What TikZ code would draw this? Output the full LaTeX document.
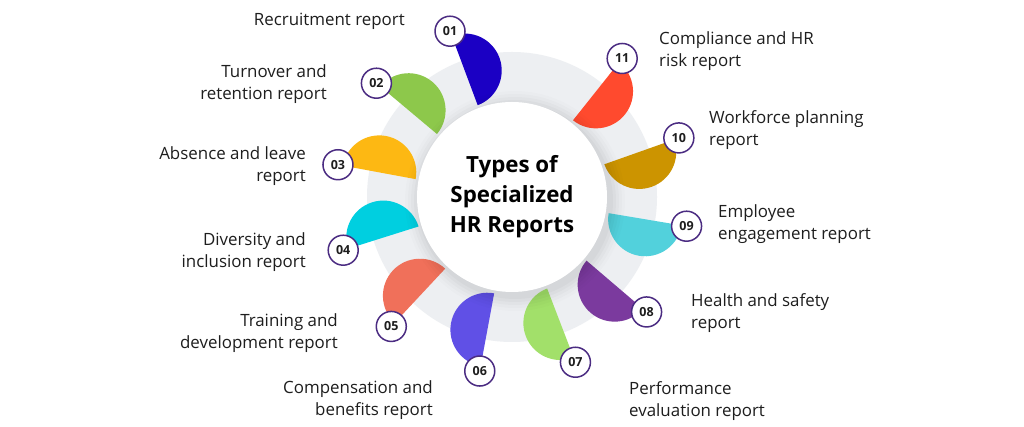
\documentclass[tikz,border=0pt]{standalone}
\usepackage{fontspec}
\setmainfont{Open Sans}
\usetikzlibrary{calc}
\begin{document}
\begin{tikzpicture}[x=1pt,y=1pt,
  lbl/.style={inner sep=0pt, font=\fontsize{16.9}{22}\selectfont, text=txt},
  lbll/.style={lbl, anchor=west, align=left},
  lblr/.style={lbl, anchor=east, align=right},
  numc/.style={circle, draw=numb, line width=1.5pt, fill=white, minimum size=30pt, inner sep=0pt,
     font=\fontsize{12.5}{12.5}\selectfont\bfseries, text=txt}
]
\definecolor{txt}{HTML}{1E1E1E}
\definecolor{numb}{HTML}{4B2C82}
\definecolor{ring}{HTML}{EDEFF2}
\definecolor{c01}{HTML}{1B00C4}
\definecolor{c02}{HTML}{8DC84B}
\definecolor{c03}{HTML}{FDB813}
\definecolor{c04}{HTML}{00CFE0}
\definecolor{c05}{HTML}{F0705A}
\definecolor{c06}{HTML}{6050E6}
\definecolor{c07}{HTML}{A2E06A}
\definecolor{c08}{HTML}{7B3A9E}
\definecolor{c09}{HTML}{52D1DC}
\definecolor{c10}{HTML}{CC9400}
\definecolor{c11}{HTML}{FF4A2E}
\useasboundingbox[fill=white] (0,0) rectangle (1024,427);
\coordinate (C) at (512,230);
% ring
\fill[ring] (C) circle[radius=145];
% wedges
\foreach \a/\c in {110.5/c01,140/c02,169.5/c03,197.5/c04,227/c05,259.5/c06,291/c07,319.5/c08,350.5/c09,19.5/c10,51.5/c11}{
  \fill[\c] ($(C)+(\a:172)$) arc[start angle=\a, end angle=\a-180, radius=37] -- cycle;
}
% soft shadow of centre circle
\foreach \r/\o in {110/0.012,107/0.015,104/0.018,101/0.022,98/0.025}{
  \fill[black, opacity=\o] ($(C)+(3,-4)$) circle[radius=\r];
}
\node[circle, fill=white, minimum size=190pt, inner sep=0pt, align=center,
  font=\fontsize{22.3}{30}\selectfont\bfseries, text=black] (title) at (C) {Types of\\Specialized\\HR Reports};
% number circles
\foreach \a/\n in {110.5/01,140/02,169.5/03,197.5/04,227/05,259.5/06,291/07,319.5/08,350.5/09,19.5/10,51.5/11}{
  \node[numc] (n\n) at ($(C)+(\a:177)$) {\n};
}
% labels
\node[lblr] (l01) at (405,406) {Recruitment report};
\node[lblr] (l02) at (327,343) {Turnover and\\retention report};
\node[lblr] (l03) at (306,261) {Absence and leave\\report};
\node[lblr] (l04) at (306,174.5) {Diversity and\\inclusion report};
\node[lblr] (l05) at (338,94) {Training and\\development report};
\node[lblr] (l06) at (433,27) {Compensation and\\benefits report};
\node[lbll] (l11) at (659,376) {Compliance and HR\\risk report};
\node[lbll] (l10) at (709,297) {Workforce planning\\report};
\node[lbll] (l09) at (718,203) {Employee\\engagement report};
\node[lbll] (l08) at (691,114) {Health and safety\\report};
\node[lbll] (l07) at (629,26) {Performance\\evaluation report};
\end{tikzpicture}
\end{document}
